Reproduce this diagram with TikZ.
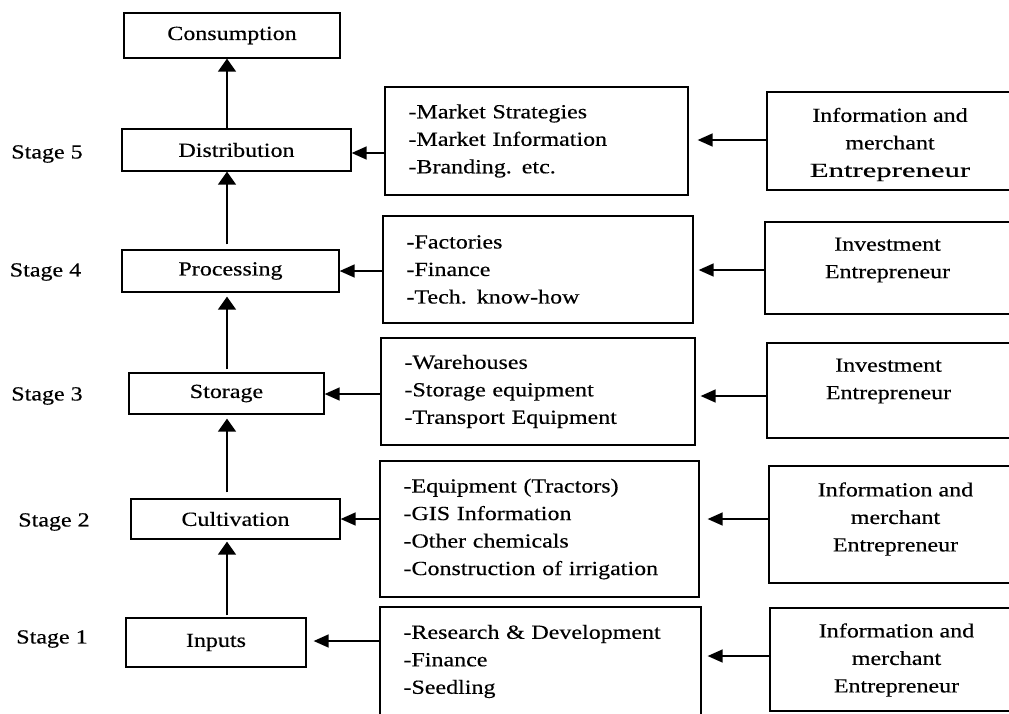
\documentclass[tikz,border=0pt]{standalone}
\usepackage{fontspec}
\usepackage{graphicx}
\setmainfont[FakeStretch=1.2,FakeBold=0.4]{Liberation Serif}
\usetikzlibrary{arrows.meta,calc}
\begin{document}
\begin{tikzpicture}[x=1pt,y=-1pt,
  every node/.style={font=\fontsize{20}{27.5}\selectfont, text=black},
  lbox/.style={draw, line width=1.3pt, inner sep=0pt},
  mbox/.style={draw, line width=1.3pt, align=left, inner xsep=23.5pt, inner ysep=0pt},
  rbox/.style={draw, line width=1.3pt, inner sep=0pt},
  rtxt/.style={align=center, inner sep=0pt},
  stg/.style={inner sep=0pt},
  varr/.style={line width=1.5pt, -{Triangle[length=13pt,width=18pt]}},
  harr/.style={line width=1.5pt, -{Triangle[length=15pt,width=13pt]}}
]
\clip (0,0) rectangle (1009,713);

% left column
\node[lbox, minimum width=216pt, minimum height=45pt] (c)  at (232,35.5)  {Consumption};
\node[lbox, minimum width=229pt, minimum height=42pt] (d)  at (236.5,150) {Distribution};
\node[lbox, minimum width=217pt, minimum height=42pt] (p)  at (230.5,271) {Processing};
\node[lbox, minimum width=195pt, minimum height=41pt] (s)  at (226.5,393.5) {Storage};
\node[lbox, minimum width=209pt, minimum height=40pt] (cu) at (235.5,519) {Cultivation};
\node[lbox, minimum width=180pt, minimum height=49pt] (i)  at (216,642.5) {Inputs};

% stage labels
\node[stg] (st5) at (47,154) {Stage 5};
\node[stg] (st4) at (45.5,272) {Stage 4};
\node[stg] (st3) at (47,396) {Stage 3};
\node[stg] (st2) at (54,522) {Stage 2};
\node[stg] (st1) at (52,639) {Stage 1};

% middle column
\node[mbox, text width=256pt, minimum height=108pt] (m5) at (536.5,141)
  {-Market Strategies\\-Market Information\\-Branding. etc.};
\node[mbox, text width=263pt, minimum height=107pt] (m4) at (538,269.5)
  {-Factories\\-Finance\\-Tech. know-how};
\node[mbox, text width=267pt, minimum height=107pt] (m3) at (538,391.5)
  {-Warehouses\\-Storage equipment\\-Transport Equipment};
\node[mbox, text width=272pt, minimum height=136pt] (m2) at (539.5,529)
  {-Equipment (Tractors)\\-GIS Information\\-Other chemicals\\-Construction of irrigation};
\node[mbox, text width=274pt, minimum height=109pt] (m1) at (540.5,661.5)
  {-Research \& Development\\-Finance\\-Seedling};

% right column
\node[rbox, minimum width=245pt, minimum height=98pt]  (r5) at (889.5,141) {};
\node[rbox, minimum width=247pt, minimum height=92pt]  (r4) at (888.5,268) {};
\node[rbox, minimum width=245pt, minimum height=95pt]  (r3) at (889.5,390.5) {};
\node[rbox, minimum width=243pt, minimum height=117pt] (r2) at (890.5,524.5) {};
\node[rbox, minimum width=242pt, minimum height=103pt] (r1) at (891,659.5) {};

\node[rtxt] (r5t) at (890,144.5) {Information and\\merchant\\\scalebox{1.28}[1]{Entrepreneur}};
\node[rtxt] (r4t) at (887.5,260) {Investment\\Entrepreneur};
\node[rtxt] (r3t) at (888.5,381) {Investment\\Entrepreneur};
\node[rtxt] (r2t) at (895.5,519) {Information and\\merchant\\Entrepreneur};
\node[rtxt] (r1t) at (896.5,660) {Information and\\merchant\\Entrepreneur};

% vertical flow
\coordinate (ax) at (227,0);
\draw[varr] (d.north -| ax) -- (c.south -| ax);
\draw[varr, shorten <=5pt] (p.north -| ax) -- (d.south -| ax);
\draw[varr, shorten <=3pt, shorten >=4pt] (s.north -| ax) -- (p.south -| ax);
\draw[varr, shorten <=6pt, shorten >=4pt] (cu.north -| ax) -- (s.south -| ax);
\draw[varr, shorten <=2pt, shorten >=2pt] (i.north -| ax) -- (cu.south -| ax);

% middle -> left
\draw[harr] ([yshift=-3pt]d.east -| m5.west) -- ([yshift=-3pt]d.east);
\draw[harr] (p.east -| m4.west) -- (p.east);
\draw[harr] ([yshift=-0.5pt]s.east -| m3.west) -- ([yshift=-0.5pt]s.east);
\draw[harr] (cu.east -| m2.west) -- (cu.east);
\draw[harr, shorten >=7pt] ([yshift=1.5pt]i.east -| m1.west) -- ([yshift=1.5pt]i.east);

% right -> middle
\draw[harr, shorten >=9pt] ([yshift=1pt]r5.west) -- ([yshift=1pt]r5.west -| m5.east);
\draw[harr, shorten >=5pt] ([yshift=-2pt]r4.west) -- ([yshift=-2pt]r4.west -| m4.east);
\draw[harr, shorten >=5pt] ([yshift=-5.5pt]r3.west) -- ([yshift=-5.5pt]r3.west -| m3.east);
\draw[harr, shorten >=8pt] ([yshift=5.5pt]r2.west) -- ([yshift=5.5pt]r2.west -| m2.east);
\draw[harr, shorten >=6pt] ([yshift=3.5pt]r1.west) -- ([yshift=3.5pt]r1.west -| m1.east);
\end{tikzpicture}
\end{document}
